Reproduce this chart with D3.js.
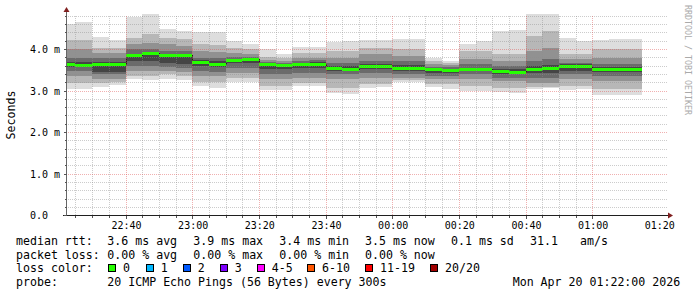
<!DOCTYPE html>
<html>
<head>
<meta charset="utf-8">
<script src="https://cdn.jsdelivr.net/npm/d3@7"></script>
<style>
  body { margin: 0; background: #fff; }
  svg { display: block; }
  text { font-family: "DejaVu Sans Mono", monospace; }
</style>
</head>
<body>
<svg id="chart" width="697" height="297"></svg>
<script>
// 5 minute slots (start time), 20 pings each
const times = ["22:20","22:25","22:30","22:35","22:40","22:45","22:50","22:55","23:00","23:05",
  "23:10","23:15","23:20","23:25","23:30","23:35","23:40","23:45","23:50","23:55",
  "00:00","00:05","00:10","00:15","00:20","00:25","00:30","00:35","00:40","00:45",
  "00:50","00:55","01:00","01:05","01:10"];

// rtt in ms
const maxRtt = [4.62,4.65,4.30,4.23,4.77,4.85,4.50,4.44,4.42,4.42,4.20,4.14,4.00,3.90,4.06,4.06,4.18,4.20,4.22,4.22,
  4.26,4.26,3.80,3.72,4.12,4.20,4.44,4.47,4.84,4.84,4.28,4.20,4.22,4.24,4.24];
const hi3 = [4.22,4.22,4.04,4.04,4.28,4.36,4.28,4.24,4.12,4.10,4.04,4.02,3.82,3.80,3.92,3.92,3.96,3.96,4.04,4.04,
  4.00,4.00,3.72,3.68,3.96,3.96,3.88,3.88,4.32,4.44,3.88,3.88,4.00,4.00,4.00];
const hi5 = [4.00,4.00,3.92,3.92,4.12,4.16,4.12,4.08,3.96,3.94,3.92,3.90,3.74,3.72,3.80,3.80,3.80,3.80,3.88,3.88,
  3.84,3.84,3.64,3.62,3.76,3.76,3.72,3.72,3.96,4.04,3.76,3.76,3.80,3.80,3.80];
const hi7 = [3.80,3.80,3.80,3.80,4.00,4.02,3.96,3.96,3.80,3.80,3.82,3.82,3.70,3.68,3.72,3.74,3.68,3.68,3.72,3.72,
  3.72,3.72,3.58,3.58,3.64,3.64,3.60,3.60,3.72,3.76,3.68,3.68,3.64,3.64,3.64];
const hi9 = [3.70,3.70,3.70,3.70,3.90,3.94,3.90,3.90,3.74,3.72,3.78,3.80,3.68,3.66,3.68,3.70,3.60,3.60,3.64,3.66,
  3.62,3.62,3.56,3.54,3.56,3.56,3.52,3.52,3.60,3.62,3.64,3.64,3.58,3.58,3.58];
const median = [3.64,3.63,3.65,3.65,3.87,3.92,3.87,3.87,3.70,3.66,3.75,3.78,3.64,3.62,3.65,3.66,3.56,3.54,3.59,3.60,
  3.56,3.56,3.52,3.50,3.53,3.54,3.47,3.46,3.54,3.55,3.61,3.61,3.54,3.54,3.54];
const lo9 = [3.58,3.58,3.46,3.46,3.72,3.72,3.68,3.66,3.60,3.58,3.68,3.68,3.52,3.52,3.56,3.56,3.48,3.48,3.52,3.52,
  3.48,3.48,3.44,3.44,3.48,3.48,3.42,3.42,3.44,3.44,3.48,3.48,3.46,3.46,3.46];
const lo7 = [3.48,3.48,3.40,3.40,3.60,3.60,3.58,3.56,3.48,3.46,3.56,3.56,3.40,3.40,3.44,3.44,3.40,3.40,3.44,3.44,
  3.40,3.40,3.36,3.36,3.40,3.40,3.32,3.32,3.32,3.32,3.40,3.40,3.36,3.36,3.36];
const lo5 = [3.36,3.36,3.30,3.30,3.48,3.48,3.48,3.46,3.36,3.36,3.44,3.44,3.28,3.28,3.32,3.32,3.28,3.28,3.32,3.32,
  3.32,3.32,3.28,3.28,3.28,3.28,3.24,3.24,3.20,3.20,3.28,3.28,3.24,3.24,3.24];
const lo3 = [3.20,3.20,3.20,3.22,3.36,3.36,3.40,3.36,3.22,3.22,3.32,3.32,3.12,3.12,3.20,3.20,3.08,3.08,3.18,3.18,
  3.26,3.26,3.18,3.18,3.12,3.12,3.08,3.08,3.10,3.10,3.12,3.12,3.04,3.04,3.04];
const minRtt = [3.06,3.04,3.10,3.14,3.28,3.26,3.30,3.27,3.13,3.08,3.22,3.22,3.02,3.02,3.11,3.12,2.96,2.92,3.08,3.10,
  3.22,3.22,3.10,3.06,3.00,3.00,2.98,2.96,3.06,3.08,3.02,3.04,2.90,2.90,2.90];

const yTicks = [0, 1, 2, 3, 4];
const yTickLabels = ["0.0", "1.0 m", "2.0 m", "3.0 m", "4.0 m"];
const xTickLabels = ["22:40","23:00","23:20","23:40","00:00","00:20","00:40","01:00","01:20"];

const lossNames = ["0", "1", "2", "3", "4-5", "6-10", "11-19", "20/20"];
const lossColors = ["#26ff00", "#00b8ff", "#0059ff", "#7e00ff", "#ff00ff", "#ff5500", "#ff0000", "#a10000"];

const W = 697, H = 297;
const plot = { l: 66, r: 666, t: 16, b: 215.8 };
const STEP = 5 * 60 * 1000;

// slots before noon belong to the next day
const toDate = s => {
  const [h, m] = s.split(":").map(Number);
  return new Date(Date.UTC(2026, 3, h < 12 ? 20 : 19, h, m));
};
const px = v => Math.floor(v) + 0.5;

const x = d3.scaleUtc()
  .domain([toDate("22:22"), toDate("01:22")])
  .range([plot.l, plot.r]);
const y = d3.scaleLinear()
  .domain([0, 4.8])
  .range([plot.b, plot.b - 4.8 * 41.6]);

const svg = d3.select("#chart");
svg.append("rect").attr("width", W).attr("height", H).attr("fill", "#fff");

// integer pixel edges for each slot
const slots = times.map((t, i) => {
  const a = toDate(t), b = new Date(+a + STEP);
  return { i, x0: Math.max(Math.floor(x(a)), plot.l + 1), x1: Math.floor(x(b)) };
});

// smoke layers, outer to inner
const bands = [
  { lo: minRtt, hi: maxRtt, fill: "#dddddd" },
  { lo: lo3, hi: hi3, fill: "#b7b7b7" },
  { lo: lo5, hi: hi5, fill: "#919191" },
  { lo: lo7, hi: hi7, fill: "#6b6b6b" },
  { lo: lo9, hi: hi9, fill: "#454545" }
];

const smoke = svg.append("g").attr("shape-rendering", "crispEdges");
bands.forEach(b => {
  smoke.append("g")
    .selectAll("rect")
    .data(slots)
    .join("rect")
    .attr("x", d => d.x0)
    .attr("width", d => d.x1 - d.x0)
    .attr("y", d => Math.round(y(b.hi[d.i])))
    .attr("height", d => Math.round(y(b.lo[d.i])) - Math.round(y(b.hi[d.i])))
    .attr("fill", b.fill);
});

// median line (dark step) + loss-coloured band
const medPts = slots.map(d => [d.x0, Math.round(y(median[d.i])) + 0.5]);
medPts.push([slots[slots.length - 1].x1, Math.round(y(median[median.length - 1])) + 0.5]);
svg.append("path")
  .attr("d", d3.line().curve(d3.curveStepAfter)(medPts))
  .attr("fill", "none")
  .attr("stroke", "#202020")
  .attr("stroke-width", 1)
  .attr("shape-rendering", "crispEdges");

svg.append("g")
  .attr("shape-rendering", "crispEdges")
  .selectAll("rect")
  .data(slots)
  .join("rect")
  .attr("x", d => d.x0)
  .attr("width", d => d.x1 - d.x0)
  .attr("y", d => Math.round(y(median[d.i])) - 1)
  .attr("height", 3)
  .attr("fill", lossColors[0]);

// grid on top, every 5 min / 0.2 ms, major every 20 min / 1 ms; drawn as 1px dots
const gridX = d3.range(25, 185, 5).map(m => new Date(+toDate("22:00") + m * 60000));
const gridY = d3.range(1, 25).map(k => +(k * 0.2).toFixed(1));
const isMajX = d => d.getUTCMinutes() % 20 === 0;
const isMajY = v => Number.isInteger(v);

const dotsV = cols => {
  const p = d3.path();
  cols.forEach(c => {
    for (let r = Math.ceil(plot.t); r < Math.floor(plot.b); r += 2) { p.moveTo(c + 0.5, r); p.lineTo(c + 0.5, r + 1); }
  });
  return p.toString();
};
const dotsH = rows => {
  const p = d3.path();
  rows.forEach(r => {
    for (let c = plot.l + 2; c <= plot.r; c += 2) { p.moveTo(c, r + 0.5); p.lineTo(c + 1, r + 0.5); }
  });
  return p.toString();
};
const colOf = d => Math.floor(x(d));
const rowOf = v => Math.floor(y(v));

const minorCol = "rgba(143,143,143,0.45)", majorCol = "rgba(222,79,79,0.45)";
const grid = svg.append("g").attr("fill", "none").attr("stroke-width", 1).attr("shape-rendering", "crispEdges");
grid.append("path").attr("d", dotsH(gridY.filter(v => !isMajY(v)).map(rowOf))).attr("stroke", minorCol);
grid.append("path").attr("d", dotsV(gridX.filter(d => !isMajX(d)).map(colOf))).attr("stroke", minorCol);
grid.append("path").attr("d", dotsH(gridY.filter(isMajY).map(rowOf))).attr("stroke", majorCol);
grid.append("path").attr("d", dotsV(gridX.filter(isMajX).map(colOf))).attr("stroke", majorCol);

// axes
const ax = plot.l + 0.5, ay = px(y(0));
const axes = svg.append("g").attr("shape-rendering", "crispEdges");
axes.append("line")
  .attr("x1", ax).attr("x2", ax)
  .attr("y1", 11).attr("y2", ay)
  .attr("stroke", "#666");
axes.append("line")
  .attr("x1", ax - 4).attr("x2", 669)
  .attr("y1", ay).attr("y2", ay)
  .attr("stroke", "#1f1f1f");
// small ticks
axes.append("g").selectAll("line").data([0].concat(gridY)).join("line")
  .attr("x1", d => isMajY(d) ? ax - 3 : ax - 1.5).attr("x2", ax)
  .attr("y1", d => px(y(d))).attr("y2", d => px(y(d)))
  .attr("stroke", "#555");
axes.append("g").selectAll("line").data(gridX).join("line")
  .attr("x1", d => px(x(d))).attr("x2", d => px(x(d)))
  .attr("y1", ay).attr("y2", d => isMajX(d) ? ay + 3 : ay + 2)
  .attr("stroke", "#555");

svg.append("path")
  .attr("d", `M${ax - 3},12 L${ax + 3},12 L${ax},7 Z`)
  .attr("fill", "#801f1f");
svg.append("path")
  .attr("d", `M668,${ay - 3} L668,${ay + 3} L673,${ay} Z`)
  .attr("fill", "#801f1f");

// tick labels
svg.append("g").selectAll("text").data(yTicks).join("text")
  .attr("x", 30).attr("y", d => y(d) + 3.6)
  .attr("font-size", 10).attr("fill", "#000")
  .text((d, i) => yTickLabels[i]);
svg.append("g").selectAll("text").data(xTickLabels).join("text")
  .attr("x", d => x(toDate(d)) + 0.5).attr("y", 228.5)
  .attr("text-anchor", "middle")
  .attr("font-size", 10).attr("fill", "#000")
  .text(d => d);

svg.append("text")
  .attr("transform", "translate(15,115) rotate(-90)")
  .attr("text-anchor", "middle")
  .attr("font-size", 11.6)
  .text("Seconds");

svg.append("text")
  .attr("transform", "translate(685,5) rotate(90)")
  .attr("font-size", 8.3)
  .attr("fill", "#aaa")
  .text("RRDTOOL / TOBI OETIKER");

// legend
const legend = svg.append("g").attr("font-size", 11.6).attr("fill", "#000").style("white-space", "pre");
const lines = [
  [245.3, [[16, "median rtt:"], [107.3, "3.6 ms avg"], [193.3, "3.9 ms max"], [279.3, "3.4 ms min"],
    [365, "3.5 ms now"], [451, "0.1 ms sd"], [530, "31.1"], [580, "am/s"]]],
  [258.6, [[16, "packet loss:"], [107.3, "0.00 % avg"], [193.3, "0.00 % max"], [279.3, "0.00 % min"],
    [365, "0.00 % now"]]],
  [272, [[16, "loss color:"]]],
  [285.5, [[16, "probe:"], [107.3, "20 ICMP Echo Pings (56 Bytes) every 300s"],
    [512.7, "Mon Apr 20 01:22:00 2026"]]]
];
lines.forEach(([yy, items]) => {
  items.forEach(([xx, s]) => legend.append("text").attr("x", xx).attr("y", yy).text(s));
});

const boxX = [108, 145.7, 182.7, 219.7, 256.7, 307, 365, 430];
lossNames.forEach((n, i) => {
  legend.append("rect")
    .attr("x", Math.round(boxX[i]) + 0.5).attr("y", 264.5)
    .attr("width", 7).attr("height", 7)
    .attr("fill", lossColors[i]).attr("stroke", "#000");
  legend.append("text").attr("x", boxX[i] + 15).attr("y", 272).text(n);
});
</script>
</body>
</html>
